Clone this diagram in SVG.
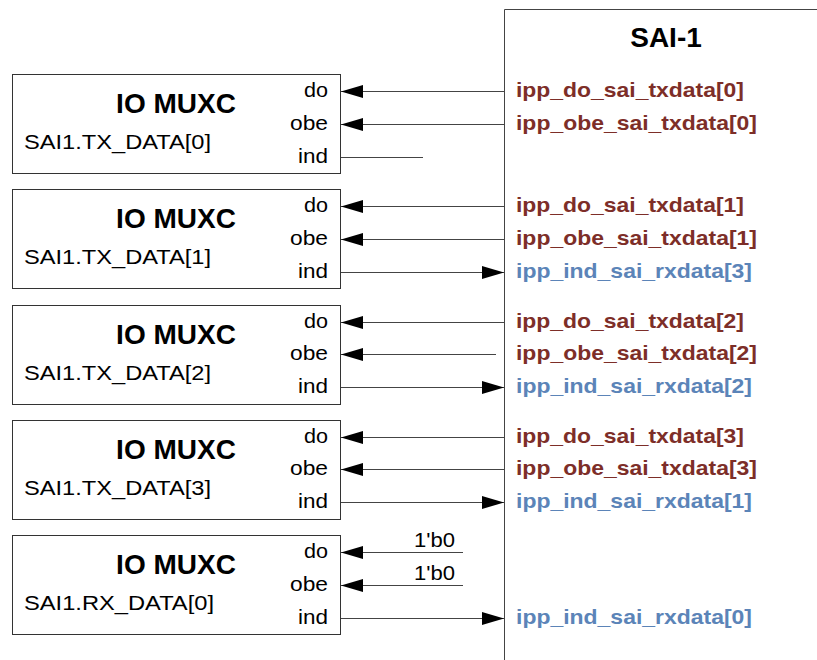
<svg xmlns="http://www.w3.org/2000/svg" width="817" height="660" viewBox="0 0 817 660">
<style>
.box{fill:#fff;stroke:#333;stroke-width:1}
.t{font-family:"Liberation Sans",Arial,sans-serif;font-size:21px;fill:#000}
.title{font-family:"Liberation Sans",Arial,sans-serif;font-size:28px;font-weight:bold;fill:#000;text-anchor:middle}
.port{text-anchor:end}
.sig{font-family:"Liberation Sans",Arial,sans-serif;font-size:21px;font-weight:bold}
.red{fill:#7d2e28}
.blue{fill:#5b84b8}
.w{stroke:#444;stroke-width:1;fill:none}
.in{marker-end:url(#ah)}
</style>
<defs>
<marker id="ah" markerUnits="userSpaceOnUse" markerWidth="23" markerHeight="13" refX="22" refY="6.5" orient="auto">
<path d="M0,0 L22,6.5 L0,13 z" fill="#000"/>
</marker>
</defs>

<g id="sai1">
<path d="M504.5,660 V9.5 H817" class="w"/>
<text class="title" x="666" y="47">SAI-1</text>
<text class="sig red" x="516" y="97" textLength="228" lengthAdjust="spacingAndGlyphs">ipp_do_sai_txdata[0]</text>
<text class="sig red" x="516" y="130" textLength="241" lengthAdjust="spacingAndGlyphs">ipp_obe_sai_txdata[0]</text>
<text class="sig red" x="516" y="212" textLength="228" lengthAdjust="spacingAndGlyphs">ipp_do_sai_txdata[1]</text>
<text class="sig red" x="516" y="245" textLength="241" lengthAdjust="spacingAndGlyphs">ipp_obe_sai_txdata[1]</text>
<text class="sig blue" x="516" y="278" textLength="236" lengthAdjust="spacingAndGlyphs">ipp_ind_sai_rxdata[3]</text>
<text class="sig red" x="516" y="328" textLength="228" lengthAdjust="spacingAndGlyphs">ipp_do_sai_txdata[2]</text>
<text class="sig red" x="516" y="360" textLength="241" lengthAdjust="spacingAndGlyphs">ipp_obe_sai_txdata[2]</text>
<text class="sig blue" x="516" y="393" textLength="236" lengthAdjust="spacingAndGlyphs">ipp_ind_sai_rxdata[2]</text>
<text class="sig red" x="516" y="443" textLength="228" lengthAdjust="spacingAndGlyphs">ipp_do_sai_txdata[3]</text>
<text class="sig red" x="516" y="475" textLength="241" lengthAdjust="spacingAndGlyphs">ipp_obe_sai_txdata[3]</text>
<text class="sig blue" x="516" y="508" textLength="236" lengthAdjust="spacingAndGlyphs">ipp_ind_sai_rxdata[1]</text>
<text class="sig blue" x="516" y="624" textLength="236" lengthAdjust="spacingAndGlyphs">ipp_ind_sai_rxdata[0]</text>
</g>

<g id="mux0">
<rect class="box" x="12.5" y="74.5" width="328" height="99"/>
<text class="title" x="176" y="113">IO MUXC</text>
<text class="t" x="24" y="149" textLength="187" lengthAdjust="spacingAndGlyphs">SAI1.TX_DATA[0]</text>
<text class="t port" x="328" y="97" textLength="24" lengthAdjust="spacingAndGlyphs">do</text>
<text class="t port" x="328" y="130" textLength="38" lengthAdjust="spacingAndGlyphs">obe</text>
<text class="t port" x="328" y="163" textLength="30" lengthAdjust="spacingAndGlyphs">ind</text>
</g>
<g id="mux1">
<rect class="box" x="12.5" y="189.5" width="328" height="99"/>
<text class="title" x="176" y="228">IO MUXC</text>
<text class="t" x="24" y="264" textLength="187" lengthAdjust="spacingAndGlyphs">SAI1.TX_DATA[1]</text>
<text class="t port" x="328" y="212" textLength="24" lengthAdjust="spacingAndGlyphs">do</text>
<text class="t port" x="328" y="245" textLength="38" lengthAdjust="spacingAndGlyphs">obe</text>
<text class="t port" x="328" y="278" textLength="30" lengthAdjust="spacingAndGlyphs">ind</text>
</g>
<g id="mux2">
<rect class="box" x="12.5" y="305.5" width="328" height="99"/>
<text class="title" x="176" y="344">IO MUXC</text>
<text class="t" x="24" y="380" textLength="187" lengthAdjust="spacingAndGlyphs">SAI1.TX_DATA[2]</text>
<text class="t port" x="328" y="328" textLength="24" lengthAdjust="spacingAndGlyphs">do</text>
<text class="t port" x="328" y="360" textLength="38" lengthAdjust="spacingAndGlyphs">obe</text>
<text class="t port" x="328" y="393" textLength="30" lengthAdjust="spacingAndGlyphs">ind</text>
</g>
<g id="mux3">
<rect class="box" x="12.5" y="420.5" width="328" height="99"/>
<text class="title" x="176" y="459">IO MUXC</text>
<text class="t" x="24" y="495" textLength="187" lengthAdjust="spacingAndGlyphs">SAI1.TX_DATA[3]</text>
<text class="t port" x="328" y="443" textLength="24" lengthAdjust="spacingAndGlyphs">do</text>
<text class="t port" x="328" y="475" textLength="38" lengthAdjust="spacingAndGlyphs">obe</text>
<text class="t port" x="328" y="508" textLength="30" lengthAdjust="spacingAndGlyphs">ind</text>
</g>
<g id="mux4">
<rect class="box" x="12.5" y="535.5" width="328" height="99"/>
<text class="title" x="176" y="574">IO MUXC</text>
<text class="t" x="24" y="610" textLength="190" lengthAdjust="spacingAndGlyphs">SAI1.RX_DATA[0]</text>
<text class="t port" x="328" y="558" textLength="24" lengthAdjust="spacingAndGlyphs">do</text>
<text class="t port" x="328" y="591" textLength="38" lengthAdjust="spacingAndGlyphs">obe</text>
<text class="t port" x="328" y="624" textLength="30" lengthAdjust="spacingAndGlyphs">ind</text>
</g>

<g id="connectors">
<line class="w in" x1="504" y1="91.5" x2="341" y2="91.5"/>
<line class="w in" x1="504" y1="124.5" x2="341" y2="124.5"/>
<line class="w" x1="341" y1="157.5" x2="423" y2="157.5"/>

<line class="w in" x1="504" y1="206.5" x2="341" y2="206.5"/>
<line class="w in" x1="504" y1="239.5" x2="341" y2="239.5"/>
<line class="w in" x1="341" y1="272.5" x2="504" y2="272.5"/>

<line class="w in" x1="504" y1="322.5" x2="341" y2="322.5"/>
<line class="w in" x1="496" y1="354.5" x2="341" y2="354.5"/>
<line class="w in" x1="341" y1="387.5" x2="504" y2="387.5"/>

<line class="w in" x1="504" y1="437.5" x2="341" y2="437.5"/>
<line class="w in" x1="504" y1="469.5" x2="341" y2="469.5"/>
<line class="w in" x1="341" y1="502.5" x2="504" y2="502.5"/>

<line class="w in" x1="463" y1="552.5" x2="341" y2="552.5"/>
<line class="w in" x1="463" y1="585.5" x2="341" y2="585.5"/>
<line class="w in" x1="341" y1="618.5" x2="504" y2="618.5"/>
<text class="t port" x="455" y="547" textLength="41" lengthAdjust="spacingAndGlyphs">1'b0</text>
<text class="t port" x="455" y="580" textLength="41" lengthAdjust="spacingAndGlyphs">1'b0</text>
</g>
</svg>
